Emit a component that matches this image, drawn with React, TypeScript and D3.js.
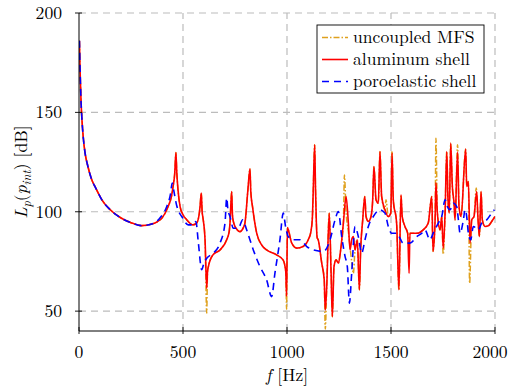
import React from "react";
import * as d3 from "d3";

const xTicks = [0, 500, 1000, 1500, 2000];
const yTicks = [50, 100, 150, 200];
const legendLabels = ["uncoupled MFS", "aluminum shell", "poroelastic shell"];

const aluminumShell: [number, number][] = [
  [2,186],[5,172],[10,155],[15,145],[20,138],[30,129],[40,124],[60,116.5],[80,112],[110,106],[150,101],[200,97],[250,94.5],[300,93],[350,93.8],[400,97],[428,102.5],[445,108],[452,112.5],[460,119],[466,129.8],[470,120],[476,111],[486,102.6],[500,98.5],[518,96],[548,93.4],[566,94.4],[578,99],[582,102.6],[588,109.4],[592,100],[595,97.6],[606,85.9],[614,61.5],[618,70],[622,72.4],[644,78.3],[678,80.8],[710,85.9],[722,90],[726,94.4],[734,110.2],[738,98],[745,94],[760,91],[774,90],[790,92],[798,94.4],[812,111],[822,121.6],[826,110],[835,102],[854,89.4],[880,83],[902,80.8],[950,78.3],[981,75.8],[994,70],[998,57.5],[1002,92],[1006,91],[1023,84.2],[1047,81.7],[1077,82.5],[1102,85.9],[1115,90],[1122,97],[1126,110],[1133,133.7],[1137,112],[1141,95],[1145,87],[1150,85.9],[1167,74.1],[1179,65.7],[1184,50.6],[1191,62.3],[1203,99.3],[1212,69.1],[1218,47.2],[1226,72.4],[1236,75.8],[1247,74.1],[1258,80.8],[1271,94.3],[1284,107.7],[1295,94.3],[1303,80.8],[1311,85.9],[1319,87.5],[1327,80.8],[1338,85.9],[1348,60.7],[1354,80.8],[1364,95.9],[1374,107.7],[1380,97.6],[1391,95.1],[1404,97.6],[1412,106],[1418,122.8],[1428,106],[1439,104.3],[1447,130.3],[1455,107.7],[1471,101],[1487,97.6],[1499,99.3],[1505,129.5],[1511,106],[1527,94.3],[1538,60.7],[1548,108.5],[1554,97.6],[1567,92.6],[1580,89.2],[1587,69.1],[1591,89.2],[1624,89.2],[1655,90.9],[1679,94.3],[1696,107.7],[1702,80],[1712,95.9],[1716,114.6],[1723,99.3],[1736,90.9],[1744,97.6],[1751,81.7],[1760,99.3],[1768,130.3],[1774,106],[1780,99.3],[1787,134.5],[1795,112.7],[1803,104.3],[1808,95.9],[1820,130],[1827,102.6],[1837,97.6],[1859,131.5],[1864,112.7],[1872,115.2],[1880,84.2],[1888,95.9],[1899,97.6],[1912,110.2],[1918,97],[1925,87.5],[1933,110.2],[1939,95.9],[1952,92.6],[1968,92.9],[1984,95.1],[2000,97.6]
];

const uncoupledMFS: [number, number][] = [
  [2,186],[5,172],[10,155],[15,145],[20,138],[30,129],[40,124],[60,116.5],[80,112],[110,106],[150,101],[200,97],[250,94.5],[300,93],[350,93.8],[400,97],[428,102.5],[445,108],[452,112.5],[460,119],[466,129.8],[470,120],[476,111],[486,102.6],[500,98.5],[518,96],[548,93.4],[566,94.4],[578,99],[582,102.6],[588,109.4],[592,100],[595,97.6],[606,85.9],[614,49],[618,70],[622,72.4],[644,78.3],[678,80.8],[710,85.9],[722,90],[726,94.4],[734,110.2],[738,98],[745,94],[760,91],[774,90],[790,92],[798,94.4],[812,111],[822,121.6],[826,110],[835,102],[854,89.4],[880,83],[902,80.8],[950,78.3],[981,75.8],[994,70],[998,51],[1002,92],[1006,91],[1023,84.2],[1047,81.7],[1077,82.5],[1102,85.9],[1115,90],[1122,97],[1126,110],[1133,133.7],[1137,112],[1141,95],[1145,87],[1150,85.9],[1167,74.1],[1179,65.7],[1184,41],[1191,62.3],[1203,99.3],[1212,69.1],[1218,47.2],[1226,72.4],[1236,75.8],[1247,74.1],[1258,80.8],[1271,94.3],[1276,118.5],[1284,100],[1295,90],[1311,75],[1319,69],[1327,80.8],[1338,85.9],[1348,60.7],[1354,80.8],[1364,95.9],[1374,107.7],[1380,97.6],[1391,95.1],[1404,97.6],[1412,106],[1418,122.8],[1428,106],[1439,104.3],[1447,130.3],[1455,107.7],[1471,101],[1476,106],[1487,97.6],[1499,99.3],[1505,130.5],[1511,106],[1527,94.3],[1538,60.7],[1548,108.5],[1554,97.6],[1567,92.6],[1580,89.2],[1587,84],[1591,89.2],[1624,89.2],[1655,90.9],[1679,94.3],[1696,107.7],[1702,80],[1712,95.9],[1716,137],[1723,99.3],[1736,90.9],[1744,97.6],[1751,78.5],[1760,99.3],[1768,130.3],[1774,106],[1780,99.3],[1787,134.5],[1795,112.7],[1803,104.3],[1808,95.9],[1820,133.7],[1827,102.6],[1837,97.6],[1859,131.5],[1864,112.7],[1872,115.2],[1878,64],[1888,95.9],[1899,97.6],[1910,112],[1918,97],[1925,87.5],[1933,110.2],[1939,95.9],[1952,92.6],[1968,92.9],[1984,95.1],[2000,97.6]
];

const poroelasticShell: [number, number][] = [
  [2,186],[5,172],[10,155],[15,145],[20,138],[30,129],[40,124],[60,116.5],[80,112],[110,106],[150,101],[200,97],[250,94.5],[300,93],[350,93.8],[390,97],[422,102.6],[440,109],[448,114.5],[455,111],[470,103],[480,100],[494,97.6],[525,93.4],[550,93.4],[562,95.1],[574,84.2],[590,70.8],[600,74],[614,76.6],[646,79.2],[678,84.2],[702,94.3],[710,106.9],[716,101],[726,97.6],[742,91.7],[766,91.7],[787,95.9],[806,90.9],[838,80.8],[870,72.4],[902,65.7],[926,57.3],[942,69.1],[966,85.9],[982,99.3],[994,92],[1006,87.5],[1030,85.9],[1063,85.9],[1095,82.5],[1126,80.8],[1175,80],[1207,85.9],[1231,95.9],[1247,100.1],[1263,87.5],[1279,77.5],[1290,72.4],[1300,54],[1311,69.1],[1327,92.6],[1343,87.5],[1359,79.2],[1375,85.9],[1391,92.6],[1415,97.6],[1447,101],[1471,99.3],[1487,92.6],[1503,89.2],[1527,89.2],[1559,84.2],[1591,84.2],[1624,87.5],[1648,89.2],[1663,90.9],[1687,85.9],[1703,89.2],[1727,94.3],[1744,97.6],[1760,106],[1771,102.6],[1784,101],[1800,104.3],[1816,102.6],[1824,95.9],[1832,89.2],[1848,95.9],[1856,101],[1864,97.6],[1872,89.2],[1883,85.9],[1896,92.6],[1920,90.9],[1936,94.3],[1960,95.9],[1984,99.3],[1997,101]
];

const FONT = '"Latin Modern Roman", "Liberation Serif", serif';
const COL_MFS = "#dfa11e";
const COL_AL = "#ff0000";
const COL_PORO = "#0000ff";

export default function App() {
  const x = d3.scaleLinear().domain([0, 2000]).range([79, 495]);
  const y = d3.scaleLinear().domain([40, 200]).range([331, 13]);
  const line = d3.line<[number, number]>().x(d => x(d[0])).y(d => y(d[1])).curve(d3.curveMonotoneX);
  const [x0, x1] = x.range();
  const [yb, yt] = y.range();
  const gridCol = "#bcbcbc";
  const legendX = 317, legendY = 25, legendW = 167, legendH = 68;
  const fs = 17.6;
  const rows = [
    { label: legendLabels[0], color: COL_MFS, dash: "6,2,1.5,2" },
    { label: legendLabels[1], color: COL_AL, dash: "" },
    { label: legendLabels[2], color: COL_PORO, dash: "7,5" },
  ];
  const tStyle = { fontFamily: FONT };
  return (
    <svg width={509} height={388} style={{ position: "absolute", left: 0, top: 0, background: "#fff", fontFamily: FONT }}>
      <defs>
        <clipPath id="plotclip">
          <rect x={x0} y={yt} width={x1 - x0} height={yb - yt} />
        </clipPath>
      </defs>
      {xTicks.filter(t => t > 0).map(t => (
        <line key={"gx" + t} x1={x(t)} x2={x(t)} y1={yb} y2={yt} stroke={gridCol} strokeWidth={1.2} strokeDasharray="7,5" />
      ))}
      {yTicks.map(t => (
        <line key={"gy" + t} x1={x0} x2={x1} y1={y(t)} y2={y(t)} stroke={gridCol} strokeWidth={1.2} strokeDasharray="7,5" />
      ))}
      <g clipPath="url(#plotclip)" fill="none" strokeLinejoin="round">
        <path d={line(uncoupledMFS) || ""} stroke={COL_MFS} strokeWidth={1.5} strokeDasharray="6,2,1.5,2" />
        <path d={line(aluminumShell) || ""} stroke={COL_AL} strokeWidth={1.6} />
        <path d={line(poroelasticShell) || ""} stroke={COL_PORO} strokeWidth={1.6} strokeDasharray="7,5" />
      </g>
      <line x1={x0} x2={x0} y1={yb} y2={yt} stroke="#000" strokeWidth={1} />
      <line x1={x0} x2={x1} y1={yb} y2={yb} stroke="#000" strokeWidth={1} />
      {xTicks.map(t => (
        <g key={"xt" + t}>
          <line x1={x(t)} x2={x(t)} y1={yb - 4} y2={yb + 3} stroke="#000" strokeWidth={0.9} />
          <text style={tStyle} x={Math.min(x(t), 490)} y={yb + 27} textAnchor="middle" fontSize={fs}>{t}</text>
        </g>
      ))}
      {yTicks.map(t => (
        <g key={"yt" + t}>
          <line x1={x0 - 4} x2={x0 + 3} y1={y(t)} y2={y(t)} stroke="#000" strokeWidth={0.9} />
          <text style={tStyle} x={x0 - 17} y={y(t) + 6} textAnchor="end" fontSize={fs}>{t}</text>
        </g>
      ))}
      <text style={tStyle} x={(x0 + x1) / 2} y={381} textAnchor="middle" fontSize={fs}>
        <tspan fontStyle="italic">f</tspan>
        <tspan dx={6}>[Hz]</tspan>
      </text>
      <text style={tStyle} transform={`translate(27,${(yb + yt) / 2}) rotate(-90)`} textAnchor="middle" fontSize={fs}>
        <tspan fontStyle="italic">L</tspan>
        <tspan fontStyle="italic" fontSize={12.5} dy={4}>p</tspan>
        <tspan dy={-4}>(</tspan>
        <tspan fontStyle="italic">p</tspan>
        <tspan fontStyle="italic" fontSize={12.5} dy={4}>int</tspan>
        <tspan dy={-4}>)</tspan>
        <tspan dx={6}>[dB]</tspan>
      </text>
      <rect x={legendX} y={legendY} width={legendW} height={legendH} fill="#fff" stroke="#000" strokeWidth={0.9} />
      {rows.map((r, i) => {
        const ry = legendY + 12.5 + i * 22;
        return (
          <g key={r.label}>
            <line x1={legendX + 5} x2={legendX + 31} y1={ry} y2={ry} stroke={r.color} strokeWidth={1.6}
              strokeDasharray={r.dash || undefined} />
            <text style={tStyle} x={legendX + 36} y={ry + 5.5} fontSize={fs}>{r.label}</text>
          </g>
        );
      })}
    </svg>
  );
}
